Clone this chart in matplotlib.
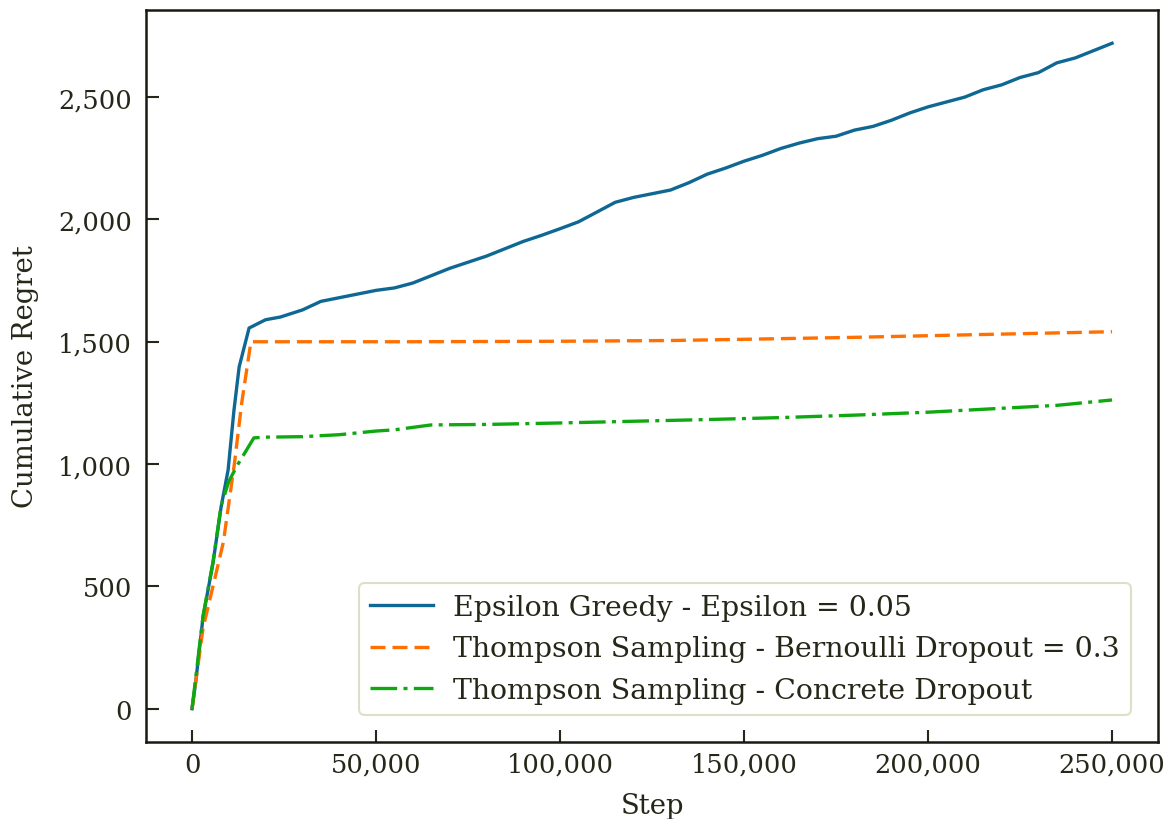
import matplotlib
matplotlib.use("Agg")
import matplotlib.pyplot as plt
from matplotlib.ticker import FuncFormatter

# Data
eps_x = [0, 1000, 3000, 5700, 7900, 9800, 11400, 12800, 15500, 18000, 20000, 24000, 30000, 35000,
         40000, 45000, 50000, 55000, 60000, 65000, 70000, 75000, 80000, 85000, 90000, 95000,
         100000, 105000, 110000, 115000, 120000, 125000, 130000, 135000, 140000, 145000, 150000,
         155000, 160000, 165000, 170000, 175000, 180000, 185000, 190000, 195000, 200000, 205000,
         210000, 215000, 220000, 225000, 230000, 235000, 240000, 245000, 250000]
eps_y = [0, 110, 376, 596, 825, 976, 1221, 1397, 1556, 1575, 1590, 1601, 1630, 1665,
         1680, 1695, 1710, 1720, 1740, 1770, 1800, 1825, 1850, 1880, 1910, 1935,
         1962, 1990, 2030, 2070, 2090, 2105, 2120, 2150, 2185, 2210, 2238,
         2262, 2290, 2312, 2330, 2340, 2365, 2380, 2405, 2435, 2460, 2480,
         2500, 2530, 2550, 2580, 2600, 2640, 2660, 2690, 2720]

ts_bern_x = [0, 3000, 6000, 8500, 11500, 13500, 16000, 30000, 60000, 100000, 130000, 150000,
             180000, 210000, 250000]
ts_bern_y = [0, 330, 520, 680, 1000, 1250, 1500, 1500, 1500, 1502, 1505, 1510,
             1518, 1528, 1541]

ts_conc_x = [0, 3000, 5700, 7900, 10000, 12500, 16800, 20000, 30000, 40000, 50000, 55000,
             60000, 65000, 80000, 100000, 120000, 140000, 160000, 180000, 200000, 220000,
             235000, 250000]
ts_conc_y = [0, 380, 600, 830, 930, 1000, 1107, 1110, 1112, 1120, 1135, 1140,
             1150, 1160, 1162, 1168, 1175, 1182, 1190, 1200, 1212, 1228,
             1240, 1262]

labels = ["Epsilon Greedy - Epsilon = 0.05",
          "Thompson Sampling - Bernoulli Dropout = 0.3",
          "Thompson Sampling - Concrete Dropout"]

txt = "#262619"
plt.rcParams["font.family"] = ["DejaVu Serif"]
plt.rcParams["text.color"] = txt
plt.rcParams["axes.labelcolor"] = txt
plt.rcParams["xtick.color"] = txt
plt.rcParams["ytick.color"] = txt

fig = plt.figure(figsize=(11.74, 8.2), dpi=100)
ax = fig.add_axes([0.1244, 0.0939, 0.862, 0.8927])

ax.plot(eps_x, eps_y, color="#0e6893", lw=2.4, label=labels[0])
ax.plot(ts_bern_x, ts_bern_y, color="#ff7000", lw=2.4, ls=(0, (4.5, 2.1)), label=labels[1])
ax.plot(ts_conc_x, ts_conc_y, color="#10a810", lw=2.4, ls=(0, (8, 1.9, 1.2, 1.9)), label=labels[2])

fs = 18.5
ax.set_xlabel("Step", fontsize=19.8, labelpad=11)
ax.set_ylabel("Cumulative Regret", fontsize=19.8, labelpad=13.5)
fmt = FuncFormatter(lambda v, p: f"{int(v):,}")
ax.xaxis.set_major_formatter(fmt)
ax.yaxis.set_major_formatter(fmt)
ax.set_xticks([0, 50000, 100000, 150000, 200000, 250000])
ax.set_yticks([0, 500, 1000, 1500, 2000, 2500])
ax.tick_params(direction="in", length=9, width=1.5, labelsize=fs)
ax.tick_params(axis="x", pad=7)
ax.tick_params(axis="y", pad=10)
for s in ax.spines.values():
    s.set_linewidth(1.8)
    s.set_color("#1a1a12")

leg = ax.legend(loc="lower right", bbox_to_anchor=(0.973, 0.037), borderaxespad=0,
                fontsize=20.4, frameon=True, fancybox=True, edgecolor="#d8d8bc",
                handlelength=2.2, handletextpad=0.7, labelspacing=0.5)
leg.get_frame().set_linewidth(1.5)

fig.savefig("out.png", dpi=100)
